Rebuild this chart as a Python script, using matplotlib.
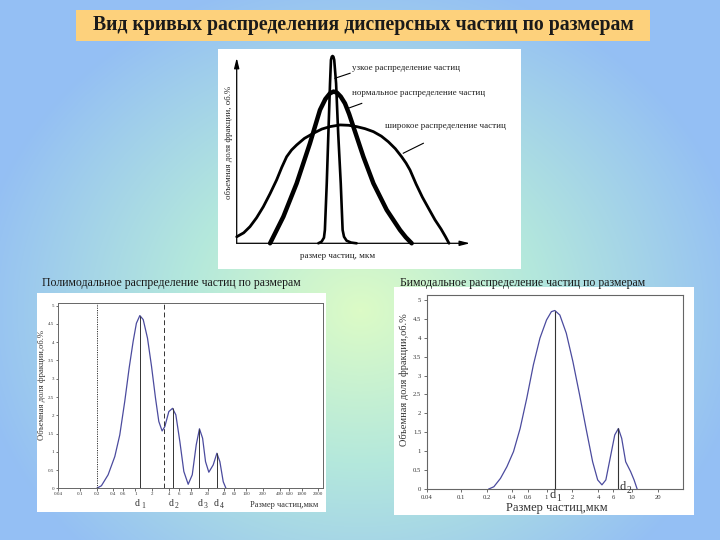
import numpy as np
import matplotlib
matplotlib.use('Agg')
import matplotlib.pyplot as plt
from matplotlib.patches import Rectangle
from matplotlib.colors import LinearSegmentedColormap

W, H = 720, 540
SERIF = ['Liberation Serif', 'DejaVu Serif']
plt.rcParams['font.family'] = SERIF

# ---------------- texts ----------------
title = "Вид кривых распределения дисперсных частиц по размерам"
top_xlabel = "размер частиц, мкм"
top_ylabel = "объемная доля фракции, об.%"
narrow_label = "узкое распределение частиц"
normal_label = "нормальное распределение частиц"
wide_label = "широкое распределение частиц"
poly_title = "Полимодальное распределение частиц по размерам"
bi_title = "Бимодальное распределение частиц по размерам"
bottom_ylabel = "Объемная доля фракции,об.%"
bottom_xlabel = "Размер частиц,мкм"

# ---------------- top schematic curves (arbitrary units 0..100) ----------------
wide_x = [0, 3.0, 5.7, 8.5, 11.4, 14.3, 17.1, 19.3, 21.4, 23.5, 25.7, 29.0, 32.8, 36.5, 40.0, 44.3,
          48.0, 51.4, 55.0, 58.6, 62.0, 65.0, 68.0, 70.7, 72.6, 74.3, 76.9, 79.6, 82.4, 85.0, 87.6, 89.5, 91.0]
wide_y = [3.5, 5.6, 8.9, 13.6, 19.5, 26.5, 33.8, 40.5, 46.2, 49.8, 52.5, 56.0, 58.7, 61.0, 62.3, 63.2,
          63.0, 62.3, 61.2, 59.6, 57.2, 54.2, 50.5, 46.2, 42.8, 39.1, 31.6, 24.6, 18.3, 12.5, 7.6, 3.5, 0]
normal_x = [14.3, 20.0, 25.7, 31.4, 35.7, 38.0, 40.0, 41.5, 42.9, 44.6, 46.4, 48.2, 50.0, 54.3, 58.6, 64.3, 70.0, 72.5, 75.0]
normal_y = [0, 14.2, 32.0, 53.4, 71.2, 77.0, 80.1, 81.0, 80.5, 78.3, 74.7, 69.0, 62.3, 46.2, 32.0, 17.8, 7.1, 3.2, 0]
narrow_x = [35.0, 36.4, 37.4, 37.8, 38.6, 39.3, 40.0, 40.4, 40.75, 41.1, 41.45, 41.8, 42.6, 43.5, 44.6, 45.4, 46.0, 47.1, 49.0, 51.4]
narrow_y = [0, 0.9, 3.0, 7.1, 32.0, 58.7, 85.4, 97.9, 99.6, 100, 99.6, 97.9, 85.4, 58.7, 32.0, 7.1, 3.5, 1.4, 0.4, 0]

# ---------------- polymodal distribution ----------------
poly_x = [0.2, 0.243, 0.321, 0.424, 0.521, 0.641, 0.769, 0.908, 1.04, 1.2, 1.38, 1.65, 1.95,
          2.30, 2.64, 3.03, 3.39, 4.0, 4.67, 5.36, 6.33, 7.47, 8.95, 10.6, 12.5, 14.3, 16.3,
          18.4, 21.1, 25.3, 29.5, 33.4, 38.4, 43.0]
poly_y = [0, 0.07, 0.37, 0.87, 1.46, 2.38, 3.29, 4.02, 4.52, 4.73, 4.62, 4.11, 3.34,
          2.47, 1.83, 1.57, 1.69, 2.10, 2.19, 2.01, 1.28, 0.46, 0.11, 0.37, 1.19, 1.63, 1.37,
          0.73, 0.44, 0.64, 0.96, 0.73, 0.18, 0]
poly_peaks_x = [1.2, 4.67, 14.3, 29.5]
poly_peaks_y = [4.73, 2.19, 1.63, 0.96]
poly_dotted_x = 0.2
poly_dashed_x = 3.21
poly_xticks = [0.04, 0.1, 0.2, 0.4, 0.6, 1, 2, 4, 6, 10, 20, 40, 60, 100, 200, 400, 600, 1000, 2000]
poly_xticklabels = ["0.04", "0.1", "0.2", "0.4", "0.6", "1", "2", "4", "6", "10", "20", "40", "60",
                    "100", "200", "400", "600", "1000", "2000"]
yticks = [0, 0.5, 1, 1.5, 2, 2.5, 3, 3.5, 4, 4.5, 5]
yticklabels = ["0", "0.5", "1", "1.5", "2", "2.5", "3", "3.5", "4", "4.5", "5"]

# ---------------- bimodal distribution ----------------
bi_x = [0.212, 0.243, 0.290, 0.345, 0.412, 0.492, 0.588, 0.702, 0.838, 1.0, 1.14, 1.25, 1.43,
        1.70, 2.03, 2.43, 2.89, 3.45, 3.95, 4.43, 4.92, 5.62, 6.25, 6.89, 7.53, 8.38, 9.57, 10.5, 11.4]
bi_y = [0, 0.06, 0.28, 0.59, 0.99, 1.60, 2.40, 3.28, 3.99, 4.47, 4.69, 4.72, 4.60,
        4.12, 3.37, 2.49, 1.60, 0.72, 0.24, 0.11, 0.24, 0.90, 1.43, 1.60, 1.34, 0.72, 0.46, 0.24, 0]
bi_peaks_x = [1.25, 6.89]
bi_peaks_y = [4.72, 1.60]
bi_xticks = [0.04, 0.1, 0.2, 0.4, 0.6, 1, 2, 4, 6, 10, 20]
bi_xticklabels = ["0.04", "0.1", "0.2", "0.4", "0.6", "1", "2", "4", "6", "10", "20"]

# ---------------- helpers ----------------
fig = plt.figure(figsize=(7.2, 5.4), dpi=100)


def rect(l, t, r, b):
    return [l / W, 1 - b / H, (r - l) / W, (b - t) / H]


def ftext(x, y, s, **kw):
    return fig.text(x / W, 1 - y / H, s, **kw)


def panel(l, t, r, b, color='white', z=-1):
    p = Rectangle((l / W, 1 - b / H), (r - l) / W, (b - t) / H, transform=fig.transFigure,
                  facecolor=color, edgecolor='none', zorder=z)
    fig.add_artist(p)


# background gradient
bg = fig.add_axes([0, 0, 1, 1], zorder=-10)
yy, xx = np.mgrid[0:H, 0:W]
d = np.sqrt(((xx - 360) / 390.0) ** 2 + ((yy - 310) / 340.0) ** 2)
d = np.clip(d, 0, 1)
cmap = LinearSegmentedColormap.from_list('bg', [(0, '#dcfbc6'), (0.45, '#b4e8dc'), (1, '#94bff4')])
bg.imshow(d, cmap=cmap, vmin=0, vmax=1, extent=[0, W, H, 0], aspect='auto', interpolation='bilinear')
bg.set_xlim(0, W)
bg.set_ylim(H, 0)
bg.axis('off')

# title box
panel(76, 9.6, 650, 40.6, color='#fdd17c', z=-2)
ftext(363, 25, title, fontsize=14.2, fontweight='bold', color='#1a1a1a', ha='center', va='center')

# white panels
panel(218, 49, 521, 269)
panel(37, 293, 326, 512)
panel(394, 287, 694, 515)

# ---------------- top chart ----------------
ax0 = fig.add_axes(rect(236.7, 56, 470, 243.3))
ax0.set_xlim(0, 100)
ax0.set_ylim(0, 100)
ax0.axis('off')
ax0.annotate('', xy=(0, 99), xytext=(0, 0), annotation_clip=False,
             arrowprops=dict(arrowstyle='-|>,head_length=0.6,head_width=0.15', lw=0.9,
                             color='black', shrinkA=0, shrinkB=0))
ax0.annotate('', xy=(100, 0), xytext=(0, 0), annotation_clip=False,
             arrowprops=dict(arrowstyle='-|>,head_length=0.6,head_width=0.15', lw=0.9,
                             color='black', shrinkA=0, shrinkB=0))
kw = dict(color='black', solid_capstyle='round', solid_joinstyle='round', clip_on=False)
ax0.plot(wide_x, wide_y, lw=2.0, **kw)
ax0.plot(normal_x, normal_y, lw=3.2, **kw)
ax0.plot(narrow_x, narrow_y, lw=1.9, **kw)
# leader lines
ax0.plot([42.1, 48.6], [88.1, 90.8], color='black', lw=0.8)
ax0.plot([47.8, 53.6], [72.1, 74.7], color='black', lw=0.8)
ax0.plot([71.4, 80.0], [48.1, 53.4], color='black', lw=0.8)
lab = dict(fontsize=6.5, color='#222222', va='center', ha='left')
ax0.text(49.4, 93.6, narrow_label, **lab)
ax0.text(49.4, 80.2, normal_label, **lab)
ax0.text(63.6, 62.6, wide_label, **lab)
ftext(229.5, 142, top_ylabel, fontsize=6.3, color='#222222', rotation=90, ha='center', va='center')
ftext(338, 256.5, top_xlabel, fontsize=6.5, color='#222222', ha='center', va='center')

# ---------------- polymodal ----------------
curve_col = '#4b4b9e'
ax1 = fig.add_axes(rect(58, 303, 322.5, 488.3))
ax1.set_xscale('log')
ax1.set_xlim(0.043, 2377)
ax1.set_ylim(0, 5.074)
ax1.set_facecolor('white')
ax1.plot(poly_x, poly_y, color=curve_col, lw=0.9)
ax1.vlines(poly_peaks_x, 0, poly_peaks_y, color='#333333', lw=0.7)
ax1.axvline(poly_dotted_x, color='#333333', lw=0.7, ls=(0, (1.2, 1.2)))
ax1.axvline(poly_dashed_x, color='#333333', lw=0.7, ls=(0, (5, 3)))
ax1.set_xticks(poly_xticks)
ax1.set_xticklabels(poly_xticklabels)
ax1.minorticks_off()
ax1.set_yticks(yticks)
ax1.set_yticklabels(yticklabels)
ax1.tick_params(labelsize=3.6, length=1.8, width=0.5, pad=1.0, colors='#333333')
for s in ax1.spines.values():
    s.set_color('#666666')
    s.set_linewidth(0.7)
ftext(42.5, 385, bottom_ylabel, fontsize=6.2, color='#333333', rotation=90, ha='center', va='center')
ftext(250, 505, bottom_xlabel, fontsize=6, color='#333333', ha='left', va='center')
ftext(42, 283, poly_title, fontsize=8.5, color='#1a1a1a', ha='left', va='center')


def dlabel(x, y, n, size, sub):
    ftext(x, y, "d", fontsize=size, color='#333333', ha='left', va='center')
    ftext(x + size * 0.85, y + size * 0.35, n, fontsize=sub, color='#333333', ha='left', va='center')


for x, n in zip([135, 169, 198, 214], ["1", "2", "3", "4"]):
    dlabel(x, 504, n, 7, 5.5)

# ---------------- bimodal ----------------
ax2 = fig.add_axes(rect(426.7, 295, 683.3, 489))
ax2.set_xscale('log')
ax2.set_xlim(0.0432, 39.4)
ax2.set_ylim(0, 5.13)
ax2.set_facecolor('white')
ax2.plot(bi_x, bi_y, color=curve_col, lw=0.9)
ax2.vlines(bi_peaks_x, 0, bi_peaks_y, color='#333333', lw=0.8)
ax2.set_xticks(bi_xticks)
ax2.set_xticklabels(bi_xticklabels)
ax2.minorticks_off()
ax2.set_yticks(yticks)
ax2.set_yticklabels(yticklabels)
ax2.tick_params(labelsize=4.8, length=2.5, width=0.5, pad=1.5, colors='#333333')
for s in ax2.spines.values():
    s.set_color('#666666')
    s.set_linewidth(0.8)
ftext(404, 380, bottom_ylabel, fontsize=7.5, color='#333333', rotation=90, ha='center', va='center')
ftext(557, 508, bottom_xlabel, fontsize=9, color='#333333', ha='center', va='center')
ftext(400, 283, bi_title, fontsize=8.5, color='#1a1a1a', ha='left', va='center')
dlabel(549, 495, "1", 9, 7)
dlabel(619, 487, "2", 9, 7)

fig.savefig('out.png', dpi=100)
